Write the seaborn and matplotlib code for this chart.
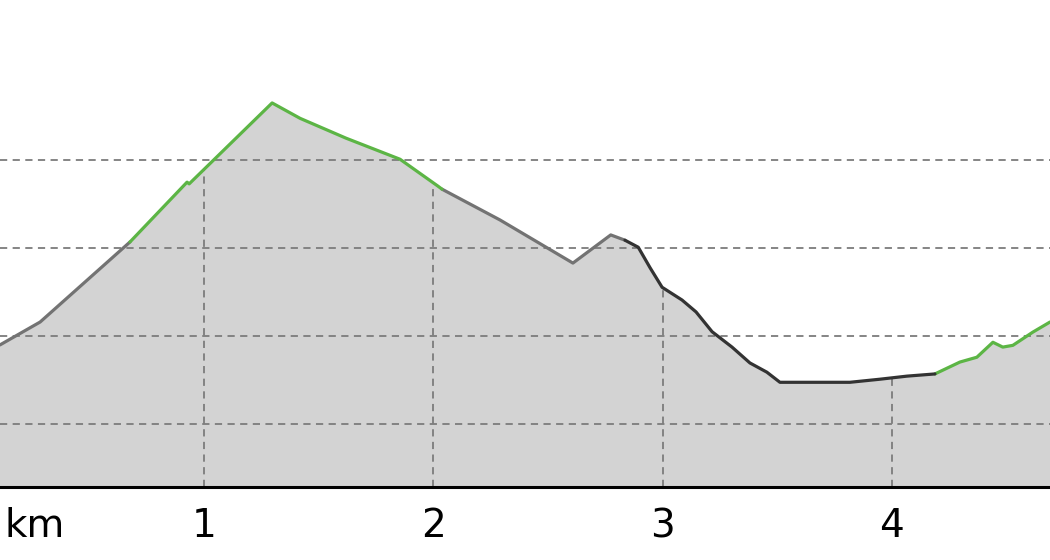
import numpy as np
import pandas as pd
import matplotlib
matplotlib.use("Agg")
import matplotlib.pyplot as plt
import seaborn as sns

# elevation profile, distance in km, elevation in m
km = [0.110, 0.285, 0.677, 0.926, 0.935, 1.000, 1.297, 1.419, 1.619, 1.855,
      2.020, 2.038, 2.291, 2.609, 2.774, 2.836, 2.894, 2.946, 2.998, 3.085,
      3.146, 3.216, 3.303, 3.381, 3.455, 3.512, 3.599, 3.817, 3.948, 4.066,
      4.188, 4.297, 4.371, 4.441, 4.484, 4.528, 4.615, 4.690]
elev = [358.0, 363.2, 381.4, 395.0, 394.6, 397.9, 413.0, 409.5, 405.0, 400.2,
        394.1, 393.4, 386.4, 376.6, 383.0, 381.8, 380.2, 375.5, 371.1, 368.2,
        365.5, 361.0, 357.5, 353.9, 351.8, 349.5, 349.5, 349.5, 350.2, 350.9,
        351.4, 354.1, 355.2, 358.6, 357.5, 357.9, 360.9, 363.2]
# grade class of each stretch, one entry per point (stretch starting at that point)
grade = ["flat", "flat", "climb", "climb", "climb", "climb", "climb", "climb", "climb", "climb",
         "climb", "flat", "flat", "flat", "flat", "descent", "descent", "descent", "descent", "descent",
         "descent", "descent", "descent", "descent", "descent", "descent", "descent", "descent", "descent", "descent",
         "climb", "climb", "climb", "climb", "climb", "climb", "climb", "climb"]
grid_km = [1, 2, 3, 4]
grid_elev = [340, 360, 380, 400]

palette = {"climb": "#5cb545", "flat": "#737373", "descent": "#333333"}

# split into pieces so that each colour stretch is drawn separately
rows = []
piece = 0
for i in range(len(km)):
    if i > 0 and grade[i] != grade[i - 1]:
        rows.append({"km": km[i], "elev": elev[i], "grade": grade[i - 1], "piece": piece})
        piece += 1
    rows.append({"km": km[i], "elev": elev[i], "grade": grade[i], "piece": piece})
df = pd.DataFrame(rows)

sns.set_style("white")
fig = plt.figure(figsize=(10.5, 5.6), dpi=100)
ax = fig.add_axes([0, 73 / 560, 1, 487 / 560])

ymin, ymax = 325.7, 436.4
ax.fill_between(km, elev, ymin, color="#d3d3d3", lw=0, zorder=1)

grid_style = dict(color="#7c7c7c", lw=1.3, ls=(0, (4, 3)))
ax.set_yticks(grid_elev)
ax.yaxis.grid(True, **grid_style)
ax.set_axisbelow("line")
ax.vlines(grid_km, ymin, np.interp(grid_km, km, elev), zorder=1.5, **grid_style)

sns.lineplot(data=df, x="km", y="elev", hue="grade", units="piece", estimator=None,
             sort=False, palette=palette, lw=2.3, legend=False, ax=ax, zorder=2)

ax.set_xlim(km[0], km[-1])
ax.set_ylim(ymin, ymax)
ax.set_xticks(grid_km)
ax.set_xticklabels([str(k) for k in grid_km])
ax.tick_params(axis="x", length=0, pad=14.5, labelsize=28, colors="black")
ax.tick_params(axis="y", length=0, labelleft=False)
ax.set_xlabel("")
ax.set_ylabel("")
for s in ["top", "left", "right"]:
    ax.spines[s].set_visible(False)
ax.spines["bottom"].set_color("black")
ax.spines["bottom"].set_linewidth(2.2)

# unit label sits on the tick label row
ax.annotate("km", xy=(0.263, 0), xycoords=ax.get_xaxis_transform(),
            xytext=(0, -14.5), textcoords="offset points", ha="center", va="top",
            fontsize=28, color="black")

fig.savefig("out.png", dpi=100)
